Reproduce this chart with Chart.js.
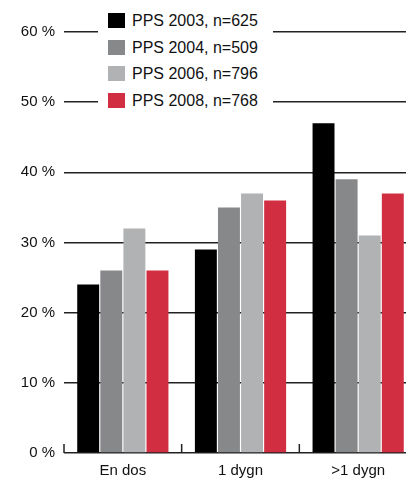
<!DOCTYPE html>
<html>
<head>
<meta charset="utf-8">
<script src="https://cdn.jsdelivr.net/npm/chart.js@4"></script>
<style>
  html, body { margin: 0; padding: 0; background: #fff; overflow: hidden; }
  #wrap { position: relative; width: 406px; height: 479px; overflow: hidden; }
  #myChart { display: block; }
  #legend {
    position: absolute; left: 98px; top: 8px; width: 175px; height: 102px;
    background: #fff; font: 16px "Liberation Sans", Arial, sans-serif; color: #111;
  }
  #legend div { position: absolute; left: 10px; height: 16px; line-height: 16px; white-space: nowrap; }
  #legend span { display: inline-block; width: 17px; height: 15px; margin-right: 7px; vertical-align: top; }
</style>
</head>
<body>
<div id="wrap">
  <canvas id="myChart" width="417" height="479"></canvas>
  <div id="legend"></div>
</div>
<script>
const categories = ['En dos', '1 dygn', '>1 dygn'];
const seriesNames = ['PPS 2003, n=625', 'PPS 2004, n=509', 'PPS 2006, n=796', 'PPS 2008, n=768'];
const pps2003 = [24, 29, 47];
const pps2004 = [26, 35, 39];
const pps2006 = [32, 37, 31];
const pps2008 = [26, 36, 37];
const yTicks = [0, 10, 20, 30, 40, 50, 60];
const colors = ['#000000', '#87888a', '#b1b2b4', '#d22e42'];

const data = {
  labels: categories,
  datasets: [pps2003, pps2004, pps2006, pps2008].map((vals, i) => ({
    label: seriesNames[i],
    data: vals,
    backgroundColor: colors[i],
    barPercentage: 0.95,
    categoryPercentage: 0.785
  }))
};

// short upward ticks on the base line, between categories
const baseTicks = {
  id: 'baseTicks',
  afterDraw(chart) {
    const x = chart.scales.x, y = chart.scales.y, ctx = chart.ctx;
    const y0 = y.getPixelForValue(0);
    const half = (x.getPixelForValue(1) - x.getPixelForValue(0)) / 2;
    ctx.save();
    ctx.strokeStyle = '#222';
    ctx.lineWidth = 1.5;
    for (let i = 0; i <= categories.length; i++) {
      const px = x.getPixelForValue(0) - half + i * half * 2;
      ctx.beginPath();
      ctx.moveTo(px, y0);
      ctx.lineTo(px, y0 - 9);
      ctx.stroke();
    }
    ctx.restore();
  }
};

const config = {
  type: 'bar',
  data: data,
  options: {
    responsive: false,
    animation: false,
    layout: { padding: { top: 32, right: 0, left: 0, bottom: 0 } },
    plugins: { legend: { display: false }, tooltip: { enabled: false } },
    scales: {
      x: {
        grid: { display: false, drawTicks: false },
        border: { display: false },
        ticks: { color: '#111', font: { family: 'Liberation Sans', size: 15 }, padding: 9 },
        afterFit(scale) { scale.height = 26; }
      },
      y: {
        min: 0, max: 60,
        afterBuildTicks(scale) { scale.ticks = yTicks.map(v => ({ value: v })); },
        grid: { color: '#222', lineWidth: 1.5, drawTicks: false },
        border: { display: false },
        ticks: {
          color: '#111', font: { family: 'Liberation Sans', size: 15 }, padding: 9,
          callback: v => v + ' %'
        },
        afterFit(scale) { scale.width = 64; }
      }
    }
  },
  plugins: [baseTicks]
};

const myChart = new Chart(document.getElementById('myChart'), config);

// legend as html on top of the grid lines
const legend = document.getElementById('legend');
seriesNames.forEach((name, i) => {
  const row = document.createElement('div');
  row.style.top = (5 + i * 26.5) + 'px';
  row.innerHTML = '<span style="background:' + colors[i] + '"></span>' + name;
  legend.appendChild(row);
});
</script>
</body>
</html>
